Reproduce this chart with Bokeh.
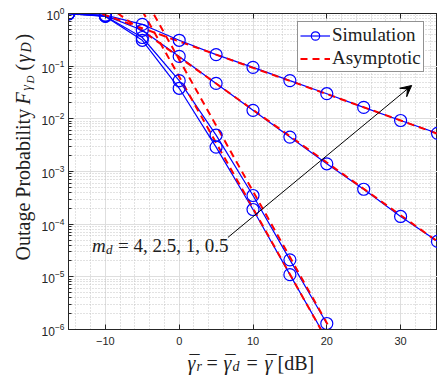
import math
from bokeh.plotting import figure
from bokeh.layouts import column, row
from bokeh.models import (Range1d, FixedTicker, LinearAxis, Legend, LegendItem,
                          Label, Arrow, VeeHead, ColumnDataSource, CustomJSTickFormatter)
from bokeh.embed import file_html
from bokeh.resources import INLINE

# ---------------- data ----------------
snr = [-15, -10, -5, 0, 5, 10, 15, 20, 25, 30, 35]
sim_m05 = [0.99, 0.93, 0.62, 0.31, 0.166, 0.095, 0.053, 0.030, 0.0165, 0.0093, 0.0053]
sim_m1 = [0.99, 0.91, 0.48, 0.153, 0.047, 0.0145, 0.0045, 0.0014, 4.6e-4, 1.4e-4, 4.7e-5]
snr_hi = [-15, -10, -5, 0, 5, 10, 15, 20]
sim_m25 = [0.99, 0.89, 0.35, 0.053, 0.0049, 3.5e-4, 2.1e-5, 1.3e-6]
sim_m4 = [0.99, 0.88, 0.31, 0.038, 0.0029, 1.9e-4, 1.1e-5, 6.5e-7]

asy_x = [-15, -10, -5, 0, 5, 10, 15, 20, 25, 30, 35]
asy_m05 = [1.66, 0.93, 0.525, 0.295, 0.166, 0.093, 0.0525, 0.0295, 0.0166, 0.0093, 0.0052]
asy_m1 = [4.68, 1.48, 0.468, 0.148, 0.0468, 0.0148, 0.00468, 0.00148, 4.68e-4, 1.48e-4, 4.68e-5]
asy_x_hi = [-5, 0, 5, 10, 15, 20, 25]
asy_m25 = [2.37, 0.133, 0.0075, 4.2e-4, 2.37e-5, 1.33e-6, 7.5e-8]
asy_m4 = [1.12, 0.063, 3.5e-3, 2.0e-4, 1.12e-5, 6.3e-7, 3.5e-8]

x_major = [-10, 0, 10, 20, 30]
x_minor = list(range(-14, 36, 2))
y_major = [10.0 ** e for e in range(-6, 1)]
y_minor = [k * 10.0 ** e for e in range(-6, 0) for k in range(2, 10)]

annot_pos = (-11.8, 3.3e-5)
arrow_start = (6.6, 5.6e-5)
arrow_end = (31.5, 0.043)

# ---------------- styling ----------------
BLUE, RED, AX = "#0000ff", "#ff0000", "#262626"
TXT = "#202020"
SERIF = "Liberation Serif"
YLAB_W = 38          # width of the y-label strip
MAIN_H = 350         # height of the main figure
XLAB_H = 25          # height of the x-label strip

p = figure(frame_width=369, frame_height=316,
           x_range=Range1d(-15, 35), y_range=Range1d(1e-6, 1),
           y_axis_type="log", output_backend="svg", toolbar_location=None,
           min_border_left=30, min_border_right=0, min_border_top=13,
           min_border_bottom=21)
p.background_fill_color = "white"
p.border_fill_color = "white"
p.outline_line_color = AX
p.outline_line_width = 1

p.xaxis.ticker = FixedTicker(ticks=x_major, minor_ticks=x_minor)
p.yaxis.ticker = FixedTicker(ticks=y_major, minor_ticks=y_minor)
for ax in (p.xaxis[0], p.yaxis[0]):
    ax.axis_line_color = AX
    ax.major_tick_line_color = AX
    ax.minor_tick_line_color = AX
    ax.major_tick_in = 5
    ax.major_tick_out = 0
    ax.minor_tick_in = 3
    ax.minor_tick_out = 0
    ax.major_label_text_font = "Liberation Sans"
    ax.major_label_text_font_size = "11px"
    ax.major_label_text_color = AX
p.yaxis.major_label_text_font_size = "12px"
p.xaxis.minor_tick_line_color = None
p.xaxis.major_label_standoff = 7
p.yaxis.major_label_standoff = 4

top = LinearAxis(ticker=FixedTicker(ticks=x_major),
                 formatter=CustomJSTickFormatter(code="return ''"),
                 major_label_text_color=None, major_label_text_font_size="1px",
                 major_label_standoff=0, major_tick_in=5, major_tick_out=0,
                 minor_tick_line_color=None, axis_line_color=AX,
                 major_tick_line_color=AX)
p.add_layout(top, "above")

for g in (p.xgrid[0], p.ygrid[0]):
    g.grid_line_color = "#dedede"
    g.grid_line_width = 1
    g.minor_grid_line_color = "#c4c4c4"
    g.minor_grid_line_dash = "1 2"
    g.minor_grid_line_width = 1

# ---------------- curves ----------------
blue_lines, red_lines, circles = [], [], []
sim_sets = ((snr, sim_m05), (snr, sim_m1), (snr_hi, sim_m25), (snr_hi, sim_m4))
asy_sets = ((asy_x, asy_m05), (asy_x, asy_m1), (asy_x_hi, asy_m25), (asy_x_hi, asy_m4))
for xs, ys in sim_sets:
    src = ColumnDataSource(dict(x=xs, y=ys))
    blue_lines.append(p.line("x", "y", source=src, line_color=BLUE, line_width=1.2))
for xs, ys in asy_sets:
    src = ColumnDataSource(dict(x=xs, y=ys))
    red_lines.append(p.line("x", "y", source=src, line_color=RED, line_width=2,
                            line_dash="7 5"))
for xs, ys in sim_sets:
    src = ColumnDataSource(dict(x=xs, y=ys))
    circles.append(p.scatter("x", "y", source=src, marker="circle", size=12,
                             fill_color=None, line_color=BLUE, line_width=1.2))

legend = Legend(items=[LegendItem(label="Simulation", renderers=[blue_lines[0], circles[0]]),
                       LegendItem(label="Asymptotic", renderers=[red_lines[0]])],
                location=(229, 257), border_line_color=AX, border_line_width=1,
                background_fill_color="white", background_fill_alpha=1,
                label_text_font=SERIF, label_text_font_size="19px",
                label_text_color=TXT,
                glyph_width=30, glyph_height=21, label_height=21, label_standoff=2,
                padding=2, spacing=1, margin=0)
p.add_layout(legend, "center")

# ---------------- annotations ----------------
p.add_layout(Arrow(end=VeeHead(size=11, fill_color="black", line_color="black"),
                   x_start=arrow_start[0], y_start=arrow_start[1],
                   x_end=arrow_end[0], y_end=arrow_end[1],
                   line_color="black", line_width=1))


def piece(fig, text, x, y, size, italic=False, xo=0, yo=0, angle=0.0, units="data"):
    lab = Label(x=x, y=y, x_offset=xo, y_offset=yo, text=text, angle=angle,
                x_units=units, y_units=units,
                text_font=SERIF, text_font_size=f"{size}px",
                text_font_style="italic" if italic else "normal",
                text_color=TXT, text_align="left", text_baseline="alphabetic")
    fig.add_layout(lab)


ax0, ay0 = annot_pos
piece(p, "m", ax0, ay0, 19, italic=True, yo=4)
piece(p, "d", ax0, ay0, 13, italic=True, xo=14, yo=0)
piece(p, "= 4, 2.5, 1, 0.5", ax0, ay0, 19, xo=26, yo=4)


def strip(w, h):
    f = figure(width=w, height=h, output_backend="svg", toolbar_location=None,
               x_axis_location=None, y_axis_location=None,
               min_border_left=0, min_border_right=0, min_border_top=0,
               min_border_bottom=0, x_range=Range1d(0, 1), y_range=Range1d(0, 1))
    f.outline_line_color = None
    f.grid.visible = False
    f.background_fill_color = "white"
    f.border_fill_color = "white"
    return f


# y-axis label strip (rotated text, reading upward); coordinates are page pixels
ylab = strip(YLAB_W, MAIN_H)
YB = 22   # baseline column (compensated for the renderer's baseline offset)


def yl(text, py, size, italic=False, shift=0):
    piece(ylab, text, YB + shift, MAIN_H - py, size, italic=italic,
          angle=math.pi / 2, units="screen")


yl("Outage Probability", 281, 20)
yl("F", 125, 20, italic=True)
yl("\u03b3", 111, 14, italic=True, shift=4)
yl("D", 104, 11, italic=True, shift=7)
yl("(", 91, 20)
yl("\u03b3", 83, 20, italic=True)
yl("D", 73, 14, italic=True, shift=4)
yl(")", 61, 20)

# x-axis label strip
xlab = strip(YLAB_W + 399, XLAB_H)
XB = 362  # baseline row in page pixels (compensated)


def xl(text, px, size, italic=False, shift=0):
    piece(xlab, text, px, (MAIN_H + XLAB_H) - XB - shift, size, italic=italic,
          units="screen")


for gx in (187, 223, 264):
    xl("\u03b3", gx, 20, italic=True)
    xl("\u00af", gx + 2, 20)
xl("r", 196, 14, italic=True, shift=4)
xl("=", 206, 20)
xl("d", 232, 14, italic=True, shift=4)
xl("=", 246, 20)
xl("[dB]", 277, 20)

layout = column(row(ylab, p, spacing=0), xlab, spacing=0)
open("out.html", "w").write(file_html(layout, INLINE))
